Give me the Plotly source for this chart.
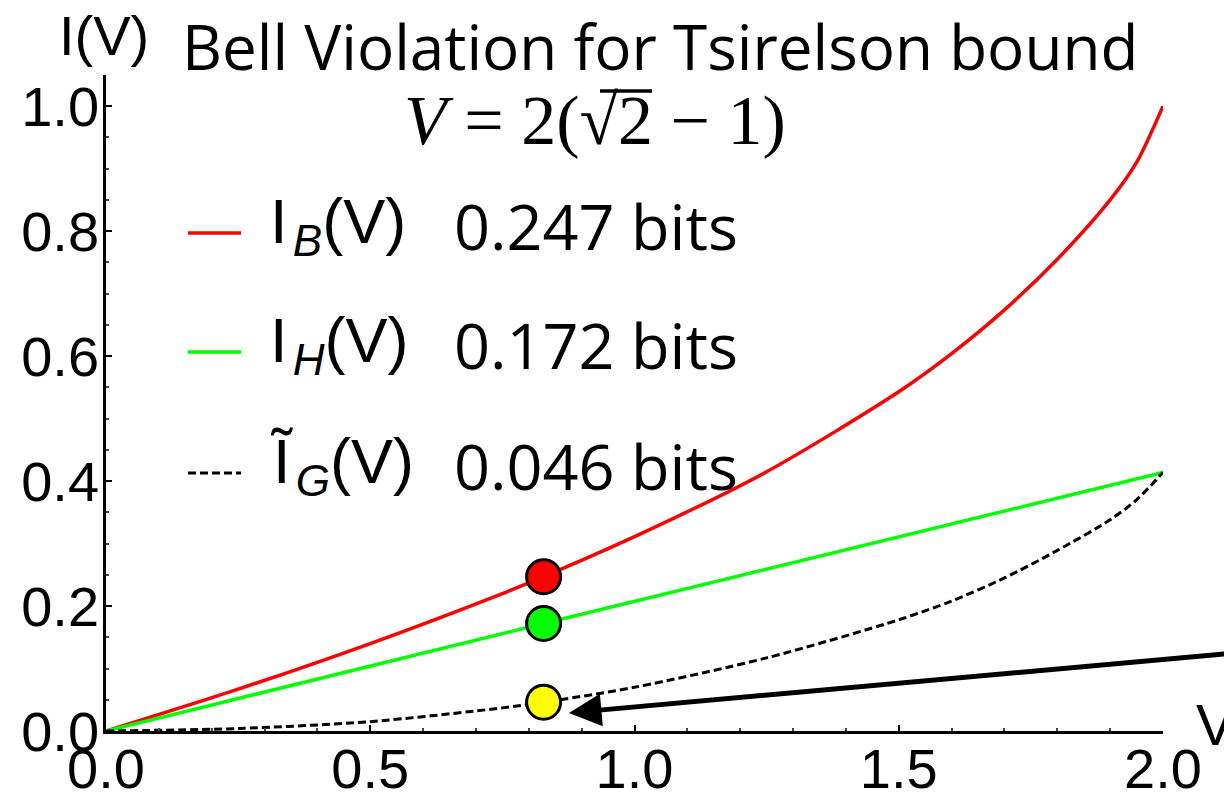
import plotly.graph_objects as go

# ---- data ----
v_red = [0, 0.25, 0.5, 0.75, 0.828, 1.0, 1.25, 1.5, 1.6, 1.7, 1.8, 1.9, 1.95, 2.0]
i_b = [0, 0.067, 0.140, 0.220, 0.247, 0.311, 0.415, 0.543, 0.604, 0.674, 0.755, 0.850, 0.910, 1.0]

v_green = [0, 0.828, 2.0]
i_h = [0, 0.172, 0.414]

v_black = [0, 0.25, 0.5, 0.75, 0.828, 1.0, 1.25, 1.5, 1.6, 1.7, 1.8, 1.9, 1.95, 2.0]
i_g = [0, 0.004, 0.015, 0.037, 0.046, 0.070, 0.117, 0.178, 0.208, 0.245, 0.289, 0.338, 0.370, 0.414]

v_tsirelson = 0.828
point_values = [0.247, 0.172, 0.046]
point_colors = ["#ff0000", "#00ff00", "#ffff00"]

legend_names = ["I&#8202;<sub><i>B</i></sub>(V)", "I&#8202;<sub><i>H</i></sub>(V)", "Ĩ&#8202;<sub><i>G</i></sub>(V)"]
legend_values = ["0.247 bits", "0.172 bits", "0.046 bits"]
line_colors = ["#ff0000", "#00ff00", "#000000"]
line_dashes = ["solid", "solid", "8px,4px"]

arrow_tip = [0.876, 0.029]
arrow_tail = [2.15, 0.126]

x_range = [0, 2.0]
y_range = [0, 1.05]

# ---- figure ----
fig = go.Figure()
series = [(v_red, i_b), (v_green, i_h), (v_black, i_g)]
widths = [3.5, 3.5, 3]
for (xs, ys), c, d, w in zip(series, line_colors, line_dashes, widths):
    fig.add_trace(go.Scatter(x=xs, y=ys, mode="lines",
                             line=dict(color=c, width=w, dash=d, shape="spline", smoothing=0.8),
                             showlegend=False, hoverinfo="skip"))

fig.add_trace(go.Scatter(x=[v_tsirelson] * 3, y=point_values, mode="markers",
                         marker=dict(size=34, color=point_colors, line=dict(color="black", width=3)),
                         showlegend=False))

L, R, T, B = 106, 61, 75, 65
W, H = 1224, 796
pw, ph = W - L - R, H - T - B

def px(xp):
    return (xp - L) / pw

def py(yp):
    return (H - B - yp) / ph

tick_font = dict(family="Liberation Sans, Arial, sans-serif", size=56, color="black")
fig.update_layout(
    width=W, height=H, margin=dict(l=L, r=R, t=T, b=B, autoexpand=False),
    paper_bgcolor="white", plot_bgcolor="white",
    xaxis=dict(range=x_range, showgrid=False, zeroline=False, showline=True, linecolor="black", linewidth=2.5,
               ticks="inside", ticklen=6, tickwidth=2, tickcolor="black", dtick=0.5, tick0=0,
               tickformat=".1f", tickfont=tick_font, automargin=False, ticklabelstandoff=-13,
               minor=dict(dtick=0.1, ticks="inside", ticklen=3, tickwidth=1.5, tickcolor="#444")),
    yaxis=dict(range=y_range, showgrid=False, zeroline=False, showline=True, linecolor="black", linewidth=2.5,
               ticks="inside", ticklen=6, tickwidth=2, tickcolor="black", dtick=0.2, tick0=0,
               tickformat=".1f", tickfont=tick_font, automargin=False, ticklabelstandoff=-7,
               minor=dict(dtick=0.05, ticks="inside", ticklen=3, tickwidth=1.5, tickcolor="#444")),
    showlegend=False,
)

title_font = dict(family="Open Sans", size=62, color="black", weight=400)

ann = []
# axis labels
ann.append(dict(x=px(57), y=py(36), xref="paper", yref="paper", text="I(V)", showarrow=False,
                xanchor="left", yanchor="middle", font=dict(family="Liberation Sans", size=56, color="black")))
ann.append(dict(x=px(1194), y=py(724), xref="paper", yref="paper", text="V", showarrow=False,
                xanchor="left", yanchor="middle", font=dict(family="Liberation Sans", size=58, color="black")))
# title
ann.append(dict(x=px(660), y=py(46), xref="paper", yref="paper", text="Bell Violation for Tsirelson bound",
                showarrow=False, xanchor="center", yanchor="middle", font=title_font))
ann.append(dict(x=px(595), y=py(121), xref="paper", yref="paper",
                text="<i>V</i> = 2(√2 − 1)",
                showarrow=False, xanchor="center", yanchor="middle",
                font=dict(family="Liberation Serif", size=70, color="black")))

shapes = []
# vinculum of the square root
shapes.append(dict(type="line", xref="paper", yref="paper", x0=px(600), x1=px(652), y0=py(91), y1=py(91),
                   line=dict(color="black", width=3.5), layer="above"))

# legend
rows = [233, 352, 473]
for name, val, c, d, w, r in zip(legend_names, legend_values, line_colors, line_dashes, widths, rows):
    shapes.append(dict(type="line", xref="paper", yref="paper", x0=px(188), x1=px(241), y0=py(r), y1=py(r),
                       line=dict(color=c, width=w, dash=d)))
    ann.append(dict(x=px(268), y=py(r - 8), xref="paper", yref="paper", text=name, showarrow=False,
                    xanchor="left", yanchor="middle", font=dict(family="Liberation Sans", size=63, color="black")))
    ann.append(dict(x=px(452), y=py(r - 8), xref="paper", yref="paper", text=val, showarrow=False,
                    xanchor="left", yanchor="middle", font=dict(family="Open Sans", size=63, color="black", weight=400)))

# arrow
ann.append(dict(x=arrow_tip[0], y=arrow_tip[1], ax=arrow_tail[0], ay=arrow_tail[1], xref="x", yref="y",
                axref="x", ayref="y", text="", showarrow=True, arrowhead=2, arrowsize=1.3, arrowwidth=5,
                arrowcolor="black", standoff=0))

fig.update_layout(annotations=ann, shapes=shapes)
fig.write_html("out.html", config={"displayModeBar": False},
               post_script="document.body.style.margin='0';document.body.style.overflow='hidden';")
